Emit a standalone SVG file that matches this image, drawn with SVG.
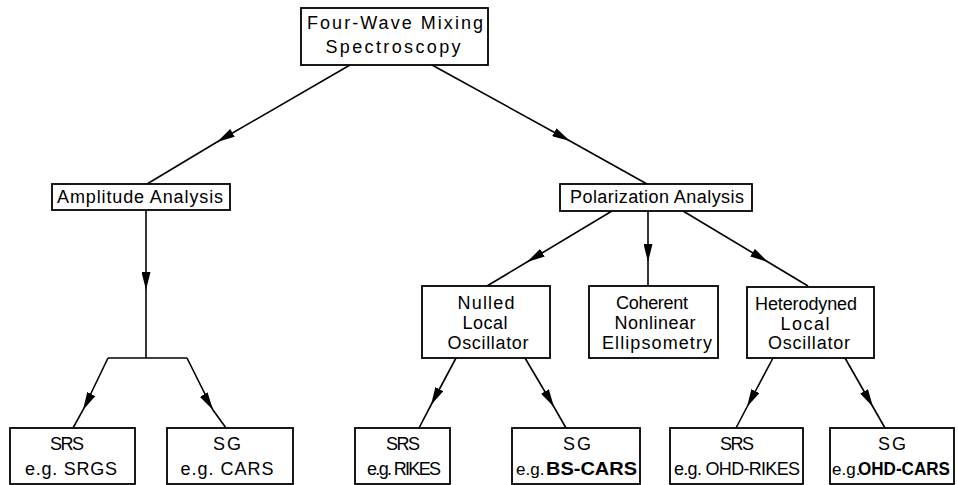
<svg xmlns="http://www.w3.org/2000/svg" width="958" height="485" viewBox="0 0 958 485">
<style>
.box{fill:#fff;stroke:#000;stroke-width:1.8}
.t{font-family:"Liberation Sans",Arial,sans-serif;font-size:18px;fill:#000;text-anchor:middle}
.b{font-family:"Liberation Sans",Arial,sans-serif;font-size:18px;font-weight:bold;fill:#000}
.s{font-family:"Liberation Sans",Arial,sans-serif;font-size:17px;fill:#000}
.c{fill:none;stroke:#000;stroke-width:1.6}
</style>
<defs>
<marker id="ah" viewBox="0 0 18 9" refX="18" refY="4.5" markerWidth="18" markerHeight="9" markerUnits="userSpaceOnUse" orient="auto">
<path d="M0,0 L18,4.5 L0,9 z" fill="#000"/>
</marker>
</defs>
<rect width="958" height="485" fill="#fff"/>
<g id="connectors">
<path class="c" marker-mid="url(#ah)" d="M350,65 L217,142 L147,184"/>
<path class="c" marker-mid="url(#ah)" d="M432,65 L570,141 L647,184"/>
<path class="c" marker-mid="url(#ah)" d="M146,210 L146,290 L146,358"/>
<path class="c" d="M108,358 L187,358"/>
<path class="c" marker-mid="url(#ah)" d="M108,358 L83,410 L73,428"/>
<path class="c" marker-mid="url(#ah)" d="M187,358 L213,410 L226,428"/>
<path class="c" marker-mid="url(#ah)" d="M612,211 L527,262 L487,286"/>
<path class="c" marker-mid="url(#ah)" d="M648,211 L648,262 L648,286"/>
<path class="c" marker-mid="url(#ah)" d="M683,211 L768,262 L808,286"/>
<path class="c" marker-mid="url(#ah)" d="M456,358 L431,405 L419,428"/>
<path class="c" marker-mid="url(#ah)" d="M525,358 L554,407 L566,428"/>
<path class="c" marker-mid="url(#ah)" d="M773,358 L747,407 L736,428"/>
<path class="c" marker-mid="url(#ah)" d="M845,358 L873,407 L885,428"/>
</g>
<g id="root">
<rect class="box" x="301" y="8" width="187" height="57"/>
<text class="t" x="395" y="29" textLength="176" lengthAdjust="spacing">Four-Wave Mixing</text>
<text class="t" x="393" y="53" textLength="135" lengthAdjust="spacing">Spectroscopy</text>
</g>
<g id="amplitude">
<rect class="box" x="52" y="184" width="178" height="26"/>
<text class="t" x="140" y="203" textLength="166" lengthAdjust="spacing">Amplitude Analysis</text>
</g>
<g id="polarization">
<rect class="box" x="560" y="184" width="192" height="27"/>
<text class="t" x="657" y="203" textLength="174" lengthAdjust="spacing">Polarization Analysis</text>
</g>
<g id="nulled">
<rect class="box" x="422" y="286" width="128" height="72"/>
<text class="t" x="486" y="309" textLength="57" lengthAdjust="spacing">Nulled</text>
<text class="t" x="485" y="329" textLength="45" lengthAdjust="spacing">Local</text>
<text class="t" x="488" y="349" textLength="81" lengthAdjust="spacing">Oscillator</text>
</g>
<g id="coherent">
<rect class="box" x="589" y="286" width="129" height="72"/>
<text class="t" x="652" y="309" textLength="72" lengthAdjust="spacing">Coherent</text>
<text class="t" x="655" y="329" textLength="81" lengthAdjust="spacing">Nonlinear</text>
<text class="t" x="657" y="349" textLength="110" lengthAdjust="spacing">Ellipsometry</text>
</g>
<g id="heterodyned">
<rect class="box" x="747" y="287" width="127" height="71"/>
<text class="t" x="806" y="310" textLength="102" lengthAdjust="spacing">Heterodyned</text>
<text class="t" x="805" y="330" textLength="49" lengthAdjust="spacing">Local</text>
<text class="t" x="809" y="349" textLength="82" lengthAdjust="spacing">Oscillator</text>
</g>
<g id="srs-srgs">
<rect class="box" x="10" y="428" width="125" height="56"/>
<text class="t" x="67" y="450" textLength="34" lengthAdjust="spacing">SRS</text>
<text class="t" x="71" y="475" textLength="92" lengthAdjust="spacing">e.g. SRGS</text>
</g>
<g id="sg-cars">
<rect class="box" x="167" y="428" width="126" height="56"/>
<text class="t" x="227" y="450" textLength="28" lengthAdjust="spacing">SG</text>
<text class="t" x="227" y="475" textLength="93" lengthAdjust="spacing">e.g. CARS</text>
</g>
<g id="srs-rikes">
<rect class="box" x="355" y="428" width="95" height="56"/>
<text class="t" x="403" y="450" textLength="34" lengthAdjust="spacing">SRS</text>
<text class="t" x="404" y="475" textLength="74" lengthAdjust="spacing">e.g. RIKES</text>
</g>
<g id="sg-bscars">
<rect class="box" x="512" y="428" width="128" height="56"/>
<text class="t" x="577" y="450" textLength="28" lengthAdjust="spacing">SG</text>
<text class="s" x="516" y="475">e.g.</text>
<text class="b" x="546" y="475" textLength="91" lengthAdjust="spacingAndGlyphs">BS-CARS</text>
</g>
<g id="srs-ohdrikes">
<rect class="box" x="670" y="428" width="133" height="56"/>
<text class="t" x="737" y="450" textLength="34" lengthAdjust="spacing">SRS</text>
<text class="t" x="737" y="475" textLength="126" lengthAdjust="spacing">e.g. OHD-RIKES</text>
</g>
<g id="sg-ohdcars">
<rect class="box" x="830" y="428" width="124" height="56"/>
<text class="t" x="892" y="450" textLength="28" lengthAdjust="spacing">SG</text>
<text class="s" x="832" y="475">e.g.</text>
<text class="b" x="858" y="475" textLength="92" lengthAdjust="spacingAndGlyphs">OHD-CARS</text>
</g>
</svg>
